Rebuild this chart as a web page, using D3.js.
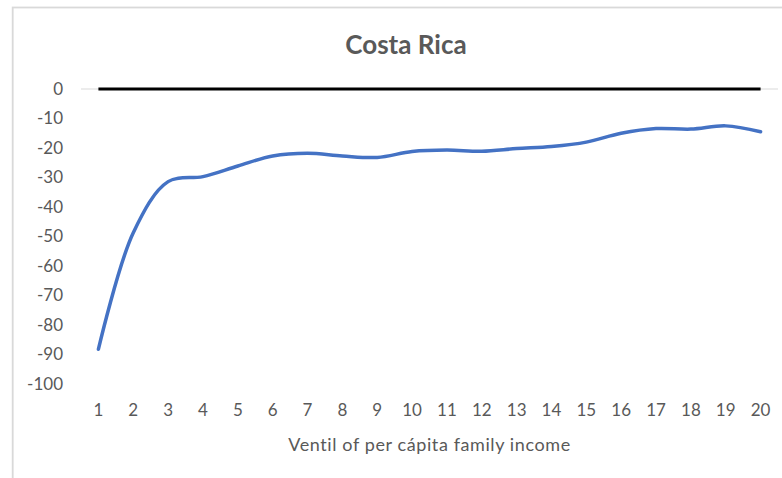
<!DOCTYPE html>
<html><head><meta charset="utf-8">
<script src="https://cdn.jsdelivr.net/npm/d3@7"></script>
<style>body{margin:0;background:#fff}svg{display:block}</style>
</head><body>
<script>
const categories = d3.range(1, 21).map(String);
const gapValues = [-88.2, -48.7, -31.4, -29.7, -26.1, -22.7, -21.8, -22.7, -23.2, -21.2, -20.7, -21.1, -20.2, -19.5, -18.0, -15.0, -13.4, -13.6, -12.5, -14.5];
const zeroValues = categories.map(() => 0);
const yTicks = [0, -10, -20, -30, -40, -50, -60, -70, -80, -90, -100];
const title = "Costa Rica";
const xTitle = "Ventil of per cápita family income";

const W = 782, H = 478;
const svg = d3.select("body").append("svg").attr("width", W).attr("height", H);
const font = "Lato, 'Open Sans', sans-serif";

svg.append("rect").attr("x", 12.7).attr("y", 7.5).attr("width", 790).attr("height", 490)
  .attr("fill", "none").attr("stroke", "#d9d9d9").attr("stroke-width", 1.8);

const x = d3.scaleBand().domain(categories).range([81, 778]);
const y = d3.scaleLinear().domain([-100, 0]).range([384, 89]);
const cx = d => x(d) + x.bandwidth() / 2;

// category axis at 0
svg.append("line").attr("x1", 81).attr("x2", 778).attr("y1", y(0)).attr("y2", y(0))
  .attr("stroke", "#d9d9d9").attr("stroke-width", 1);

// y axis labels
const yAxis = d3.axisLeft(y).tickValues(yTicks).tickSize(0).tickPadding(0)
  .tickFormat(d => String(d).replace("\u2212", "-"));
const ga = svg.append("g").attr("transform", "translate(63,0)").call(yAxis);
ga.select(".domain").remove();
ga.selectAll("text").attr("font-family", font).attr("font-size", 17).attr("fill", "#595959");

// x labels
const xAxis = d3.axisBottom(x).tickSize(0).tickPadding(0);
const gx = svg.append("g").attr("transform", "translate(0,416)").call(xAxis);
gx.select(".domain").remove();
gx.selectAll("text").attr("font-family", font).attr("font-size", 17).attr("fill", "#595959").attr("dy", "0");

// zero series
svg.append("path").datum(zeroValues)
  .attr("d", d3.line().x((d, i) => cx(categories[i])).y(d => y(d)))
  .attr("fill", "none").attr("stroke", "#000").attr("stroke-width", 3);

// main series
svg.append("path").datum(gapValues)
  .attr("d", d3.line().x((d, i) => cx(categories[i])).y(d => y(d)).curve(d3.curveCatmullRom.alpha(0.5)))
  .attr("fill", "none").attr("stroke", "#4472C4").attr("stroke-width", 3.5).attr("stroke-linecap", "round");

svg.append("text").attr("x", 406).attr("y", 54).attr("text-anchor", "middle")
  .attr("font-family", font).attr("font-weight", "bold").attr("font-size", 26).attr("fill", "#595959").text(title);

svg.append("text").attr("x", 429.5).attr("y", 451).attr("text-anchor", "middle")
  .attr("font-family", font).attr("font-size", 18).attr("letter-spacing", "0.6px").attr("fill", "#595959").text(xTitle);
</script>
</body></html>
